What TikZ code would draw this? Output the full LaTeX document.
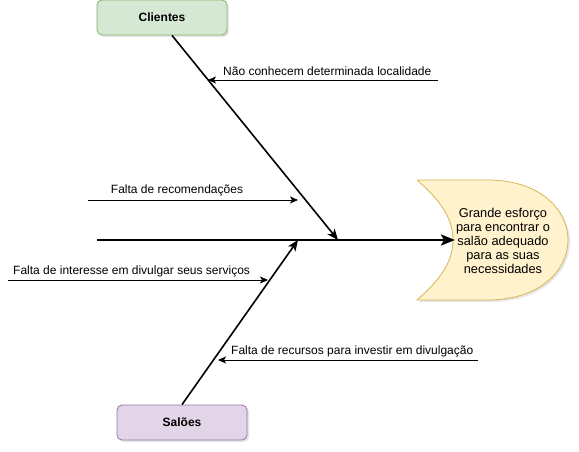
\documentclass[tikz,border=0pt]{standalone}
\usepackage{fontspec}
\setmainfont{Liberation Sans}
\usetikzlibrary{arrows.meta,shadows}

\definecolor{cligreen}{HTML}{D5E8D4}
\definecolor{cliline}{HTML}{82B366}
\definecolor{salpurple}{HTML}{E1D5E7}
\definecolor{salline}{HTML}{9673A6}
\definecolor{effyellow}{HTML}{FFF2CC}
\definecolor{effline}{HTML}{D6B656}

\tikzset{
  catbox/.style={draw, rounded corners=5pt, minimum width=130pt, minimum height=35pt,
    font=\fontsize{12pt}{14pt}\selectfont\bfseries, line width=0.8pt,
    drop shadow={opacity=0.2, shadow xshift=2pt, shadow yshift=-2pt}},
  causetxt/.style={font=\fontsize{12pt}{14pt}\selectfont, inner sep=0pt},
  causearrow/.style={-{Stealth[length=8pt, width=7pt, inset=2pt]}, line width=0.8pt},
  ribarrow/.style={-{Stealth[length=11pt, width=9pt, inset=3pt]}, line width=1.6pt},
  spinearrow/.style={-{Stealth[length=14pt, width=11pt, inset=3pt]}, line width=2.6pt}
}

\begin{document}
\begin{tikzpicture}[x=1pt, y=-1pt]
\useasboundingbox (0,0) rectangle (579,452);

% effect (fish head)
\path[fill=effyellow, draw=effline, line width=0.8pt,
  drop shadow={opacity=0.2, shadow xshift=2pt, shadow yshift=-2pt}]
  (417,180) -- (487,180) .. controls (543,180) and (568,212) .. (568,240)
  .. controls (568,268) and (543,300) .. (487,300) -- (417,300)
  .. controls (440,280) and (453,262) .. (453,240)
  .. controls (453,218) and (440,200) .. (417,180);
\node[align=center, font=\fontsize{12.8pt}{14pt}\selectfont, inner sep=0pt] (effect) at (503,241)
  {Grande esforço\\para encontrar o\\salão adequado\\para as suas\\necessidades};

% categories
\node[catbox, fill=cligreen, draw=cliline] (clientes) at (162,17.5) {Clientes};
\node[catbox, fill=salpurple, draw=salline] (saloes) at (182,422.5) {Salões};

% spine
\coordinate (tail) at (97,240);
\coordinate (head) at (455,240);
\draw[spinearrow] (tail) -- (head);

% ribs
\coordinate (cliend) at (338,240);
\coordinate (salend) at (298,240);
\draw[ribarrow] (clientes.south) ++(10,0) coordinate (clistart) -- (cliend);
\draw[ribarrow] (saloes.north) coordinate (salstart) -- (salend);

% causes
\coordinate (c1a) at (438,80);  \coordinate (c1b) at (208,80);
\coordinate (c2a) at (88,200);  \coordinate (c2b) at (298,200);
\coordinate (c3a) at (8,280);   \coordinate (c3b) at (268,280);
\coordinate (c4a) at (478,360); \coordinate (c4b) at (218,360);
\draw[causearrow] (c1a) -- (c1b);
\draw[causearrow] (c2a) -- (c2b);
\draw[causearrow] (c3a) -- (c3b);
\draw[causearrow] (c4a) -- (c4b);

\node[causetxt, anchor=west] (t1) at (223,71) {Não conhecem determinada localidade};
\node[causetxt] (t2) at (177,190) {Falta de recomendações};
\node[causetxt, anchor=west] (t3) at (13,271) {Falta de interesse em divulgar seus serviços};
\node[causetxt, anchor=west] (t4) at (231,351) {Falta de recursos para investir em divulgação};
\end{tikzpicture}
\end{document}
